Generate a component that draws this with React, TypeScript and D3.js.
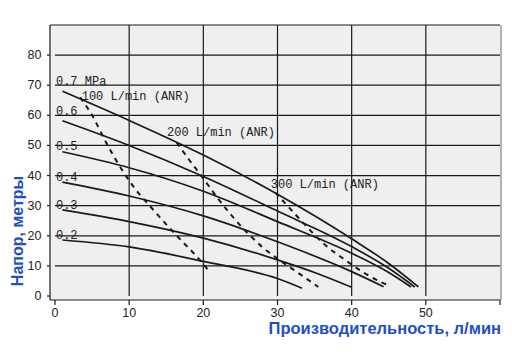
import React from 'react';
import * as d3 from 'd3';

// pump curves: head (m) vs. flow (l/min) for each supply pressure
const p07 = [[1, 68], [10, 58.3], [20, 46.8], [30, 33.8], [40, 19], [45, 10.8], [49, 3]];
const p06 = [[1, 58.2], [10, 50], [20, 39.7], [30, 28.2], [40, 16.4], [45, 9.2], [48.5, 3]];
const p05 = [[1, 47.9], [10, 42.6], [20, 34.8], [30, 24.7], [40, 14.2], [45, 7.8], [48, 3]];
const p04 = [[1, 37.8], [10, 33.2], [20, 26.6], [30, 18], [40, 8.1], [44.3, 3.1]];
const p03 = [[1, 28.6], [10, 24.7], [20, 19.2], [30, 12], [35, 7.8], [40, 2.9]];
const p02 = [[1, 18.6], [10, 16.3], [20, 11.5], [30, 5.8], [33.3, 2.6]];

// air consumption lines (dashed)
const air100 = [[3.4, 66], [5, 60], [7, 50.5], [9, 42], [11, 35], [13, 29.3], [15, 23.8], [17, 18.5], [19, 13.4], [20.8, 8.2]];
const air200 = [[16.4, 51], [18, 45.5], [20, 39], [22, 32.3], [24, 26.2], [26, 20.8], [28, 16.2], [30, 12.4], [32, 9], [34, 5.6], [35.5, 3]];
const air300 = [[29.7, 34.3], [31, 30.9], [33.3, 24.7], [36.4, 17], [39.1, 12], [41.8, 7.5], [45.1, 3.3]];

const xTicks = [0, 10, 20, 30, 40, 50];
const yTicks = [0, 10, 20, 30, 40, 50, 60, 70, 80];

const pressureLabels = ['0.7 MPa', '0.6', '0.5', '0.4', '0.3', '0.2'];
const pressureLabelY = [70, 60, 48.5, 38.2, 28.9, 18.9];
const flowLabels = ['100 L/min (ANR)', '200 L/min (ANR)', '300 L/min (ANR)'];
const flowLabelAt = [[3.6, 65.1], [15.1, 53.3], [29.1, 35.9]];

const W = 512;
const H = 354;
const frame = { left: 50, right: 500, top: 25, bottom: 300 };

const x = d3.scaleLinear().domain([0, 60]).range([55, 500]);
const y = d3.scaleLinear().domain([0, 90]).range([296, 25]);

const line = d3.line<number[]>()
  .x(d => x(d[0]))
  .y(d => y(d[1]))
  .curve(d3.curveMonotoneX);

const tickFont = '"Liberation Sans Narrow", "Arial Narrow", "Liberation Sans", sans-serif';
const monoFont = '"Liberation Mono", "DejaVu Sans Mono", monospace';
const titleFont = '"Liberation Sans", Arial, sans-serif';
const blue = '#1f4fc2';

export default function App() {
  const solid = [p07, p06, p05, p04, p03, p02];
  const dashed = [air100, air200, air300];
  return (
    <svg width={W} height={H} style={{ position: 'absolute', left: 0, top: 0 }}>
      <rect x={0} y={0} width={W} height={H} fill="#fff" />
      <rect x={frame.left} y={frame.top} width={frame.right - frame.left} height={frame.bottom - frame.top} fill="#efefef" />
      <rect x={frame.right} y={frame.top} width={2} height={frame.bottom - frame.top} fill="#b3b3b3" />

      {/* grid */}
      <g stroke="#1a1a1a" strokeWidth={1.2}>
        {yTicks.filter(t => t > 0).map(t => (
          <line key={'h' + t} x1={x(0)} x2={frame.right} y1={y(t)} y2={y(t)} />
        ))}
        {xTicks.filter(t => t > 0).map(t => (
          <line key={'v' + t} x1={x(t)} x2={x(t)} y1={y(0)} y2={frame.top} />
        ))}
        <line x1={frame.left} x2={frame.right} y1={frame.top} y2={frame.top} />
        <line x1={frame.left} x2={frame.left} y1={frame.top} y2={frame.bottom} />
        <line x1={frame.left} x2={frame.right} y1={frame.bottom} y2={frame.bottom} />
        {yTicks.map(t => (
          <line key={'yt' + t} x1={frame.left - 3} x2={frame.left} y1={y(t)} y2={y(t)} />
        ))}
        {[...xTicks, 60].map(t => (
          <line key={'xt' + t} x1={x(t)} x2={x(t)} y1={frame.bottom} y2={frame.bottom + 5} />
        ))}
      </g>

      {/* tick labels */}
      <g fontFamily={tickFont} fontSize={12.5} fill="#222">
        {yTicks.map(t => (
          <text key={'yl' + t} x={41.5} y={y(t) + 4} textAnchor="end">{t}</text>
        ))}
        {xTicks.map(t => (
          <text key={'xl' + t} x={x(t)} y={317} textAnchor="middle">{t}</text>
        ))}
      </g>

      {/* curves */}
      <g fill="none" stroke="#1a1a1a">
        {solid.map((s, i) => (
          <path key={'s' + i} d={line(s) || ''} strokeWidth={1.7} />
        ))}
        {dashed.map((s, i) => (
          <path key={'d' + i} d={line(s) || ''} strokeWidth={2} strokeDasharray="5 5" />
        ))}
      </g>

      {/* annotations */}
      <g fontFamily={monoFont} fontSize={12} fill="#222">
        {pressureLabels.map((l, i) => (
          <text key={l} x={x(0.13)} y={y(pressureLabelY[i])}>{l}</text>
        ))}
        {flowLabels.map((l, i) => (
          <text key={l} x={x(flowLabelAt[i][0])} y={y(flowLabelAt[i][1])}>{l}</text>
        ))}
      </g>

      {/* axis titles */}
      <text x={501} y={334} textAnchor="end" fontFamily={titleFont} fontWeight="bold" fontSize={16.5} fill={blue}>
        Производительность, л/мин
      </text>
      <text transform="translate(22.5,231) rotate(-90)" textAnchor="middle" fontFamily={titleFont} fontWeight="bold" fontSize={16} fill={blue}>
        Напор, метры
      </text>
    </svg>
  );
}
